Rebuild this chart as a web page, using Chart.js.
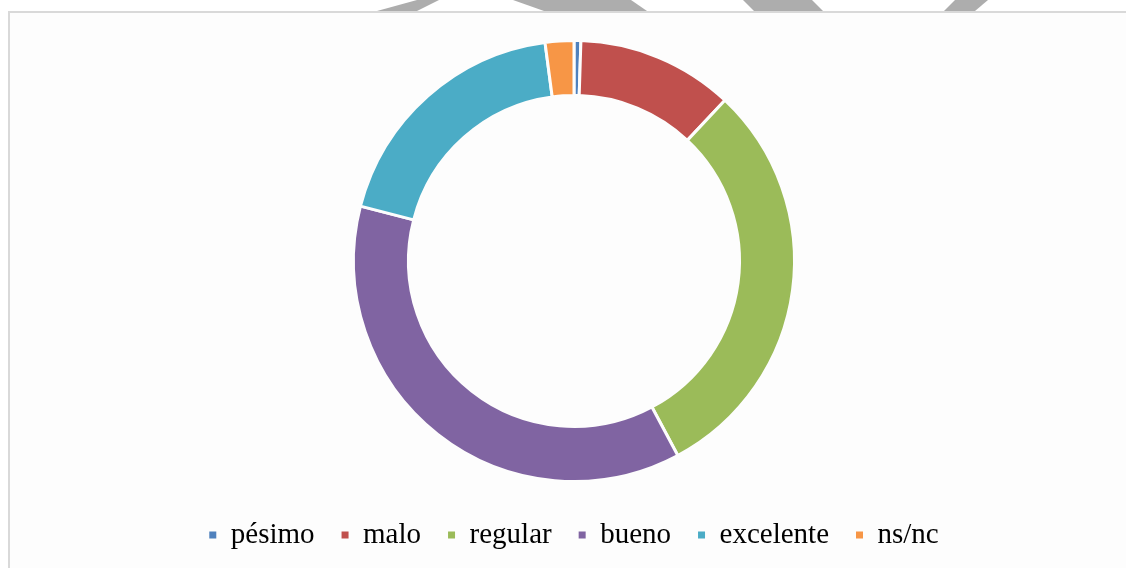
<!DOCTYPE html>
<html>
<head>
<meta charset="utf-8">
<script src="https://cdn.jsdelivr.net/npm/chart.js@4/dist/chart.umd.min.js"></script>
<style>
  html, body { margin: 0; padding: 0; background: #fff; }
  #wrap { position: relative; width: 1126px; height: 568px; overflow: hidden; }
  #frame {
    position: absolute; left: 8px; top: 11px; width: 1200px; height: 600px;
    border-left: 2px solid #d9d9d9; border-top: 2px solid #d9d9d9; background: #fdfdfd;
  }
  #mark { position: absolute; left: 0; top: 0; }
  #chart { position: absolute; left: 0; top: 0; }
</style>
</head>
<body>
<div id="wrap">
  <div id="frame"></div>
  <svg id="mark" width="1126" height="11">
    <polygon points="417,0 439,0 417,11 377,11" fill="#adadad"/>
    <polygon points="513,0 631,0 647,11 544,11" fill="#adadad"/>
    <polygon points="743,0 812,0 823,11 754,11" fill="#adadad"/>
    <polygon points="955,0 988,0 975,11 944,11" fill="#adadad"/>
  </svg>
  <canvas id="chart" width="1126" height="568"></canvas>
</div>
<script>
  const labels = ['pésimo', 'malo', 'regular', 'bueno', 'excelente', 'ns/nc'];
  const values = [0.5, 11.5, 30.2, 36.8, 18.9, 2.1];
  const colors = ['#4F81BD', '#C0504D', '#9BBB59', '#8064A2', '#4BACC6', '#F79646'];

  const ctx = document.getElementById('chart').getContext('2d');
  const defaultLabels = Chart.overrides.doughnut.plugins.legend.labels.generateLabels;

  new Chart(ctx, {
    type: 'doughnut',
    data: {
      labels: labels,
      datasets: [{
        data: values,
        backgroundColor: colors,
        borderColor: '#fdfdfd',
        borderWidth: 3
      }]
    },
    options: {
      responsive: false,
      animation: false,
      radius: 220.5,
      cutout: '75.06%',
      layout: {
        padding: { left: 22, right: 0, top: 28.5, bottom: 8.5 }
      },
      plugins: {
        tooltip: { enabled: false },
        legend: {
          position: 'bottom',
          labels: {
            boxWidth: 7,
            boxHeight: 7,
            padding: 27,
            color: '#000',
            font: { family: 'Liberation Serif', size: 29 },
            // plain filled squares, no white outline
            generateLabels: function(chart) {
              return defaultLabels(chart).map(item => {
                item.lineWidth = 0;
                item.strokeStyle = item.fillStyle;
                return item;
              });
            }
          }
        }
      }
    }
  });
</script>
</body>
</html>
